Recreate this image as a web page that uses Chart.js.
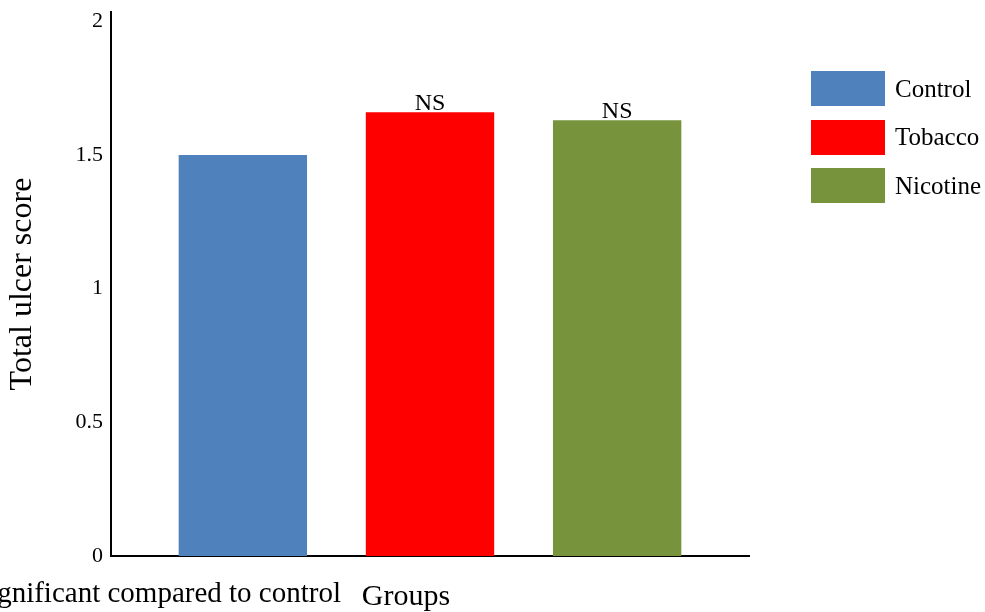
<!DOCTYPE html>
<html>
<head>
<meta charset="utf-8">
<script src="https://cdn.jsdelivr.net/npm/chart.js@4.4.0/dist/chart.umd.min.js"></script>
<style>
  body { margin: 0; background: #fff; }
  #wrap { position: relative; width: 985px; height: 612px; }
  #legend {
    position: absolute; left: 811px; top: 71px;
    font: 25px 'Liberation Serif', 'Times New Roman', serif; color: #000;
  }
  #legend .item { display: flex; align-items: center; height: 35px; margin-bottom: 13.5px; }
  #legend .box { width: 74px; height: 35px; margin-right: 10px; }
</style>
</head>
<body>
<div id="wrap">
  <canvas id="ulcer-chart"></canvas>
  <div id="legend"></div>
</div>
<script>
const groups = ['Control', 'Tobacco', 'Nicotine']
const ulcerScore = [1.5, 1.66, 1.63]
const significance = ['', 'NS', 'NS']
const groupColors = ['#4F81BD', '#FF0000', '#77933C']
const yTicks = [0, 0.5, 1, 1.5, 2]

const serif = "'Liberation Serif', 'Times New Roman', serif"

// NS marks sit just on the bar tops (bars are drawn over them),
// plus the footnote and the x axis caption under the plot
const notes = {
  id: 'notes',
  beforeDatasetsDraw (chart) {
    const ctx = chart.ctx
    ctx.save()
    ctx.fillStyle = '#000'
    ctx.font = '24px ' + serif
    ctx.textAlign = 'center'
    ctx.textBaseline = 'alphabetic'
    chart.data.datasets.forEach((ds, i) => {
      const bar = chart.getDatasetMeta(i).data[0]
      if (significance[i]) ctx.fillText(significance[i], bar.x, bar.y - 2)
    })
    ctx.restore()
  },
  afterDraw (chart) {
    const ctx = chart.ctx
    ctx.save()
    ctx.fillStyle = '#000'
    ctx.textBaseline = 'alphabetic'
    ctx.font = '29px ' + serif
    ctx.textAlign = 'right'
    ctx.fillText('NS: Non significant compared to control', 341, 602)
    ctx.font = '30px ' + serif
    ctx.textAlign = 'center'
    ctx.fillText('Groups', 406, 605)
    ctx.restore()
  }
}

const ctx = document.getElementById('ulcer-chart')
const chart = new Chart(ctx, {
  type: 'bar',
  data: {
    labels: ['Groups'],
    datasets: groups.map((name, i) => ({
      label: name,
      data: [ulcerScore[i]],
      backgroundColor: groupColors[i],
      categoryPercentage: 0.88,
      barPercentage: 0.686
    }))
  },
  options: {
    responsive: true,
    maintainAspectRatio: false,
    animation: false,
    layout: { padding: { top: 12, right: 236, left: 0, bottom: 0 } },
    plugins: {
      legend: { display: false },
      tooltip: { enabled: false }
    },
    scales: {
      x: {
        grid: { display: false, drawTicks: false },
        border: { display: true, color: '#000', width: 2 },
        ticks: { display: false },
        afterFit: (axis) => { axis.height = 56 }
      },
      y: {
        min: 0,
        max: 2.035,
        grid: { display: false, drawTicks: false },
        border: { display: true, color: '#000', width: 2 },
        afterBuildTicks: (axis) => { axis.ticks = yTicks.map(v => ({ value: v })) },
        ticks: {
          color: '#000',
          padding: 8,
          font: { family: serif, size: 22 },
          callback: (v) => String(v)
        },
        title: {
          display: true,
          text: 'Total ulcer score',
          color: '#000',
          padding: { top: 3, bottom: 0 },
          font: { family: serif, size: 32 }
        },
        afterFit: (axis) => {
          axis.width = 111
          // the top label has room inside the axis, no extra padding wanted
          axis.paddingTop = 0
          axis.paddingBottom = 0
        }
      }
    }
  },
  plugins: [notes]
})

// legend on the right, built from the chart's datasets
const legend = document.getElementById('legend')
chart.data.datasets.forEach((ds) => {
  const item = document.createElement('div')
  item.className = 'item'
  const box = document.createElement('span')
  box.className = 'box'
  box.style.background = ds.backgroundColor
  const label = document.createElement('span')
  label.textContent = ds.label
  item.appendChild(box)
  item.appendChild(label)
  legend.appendChild(item)
})
</script>
</body>
</html>
